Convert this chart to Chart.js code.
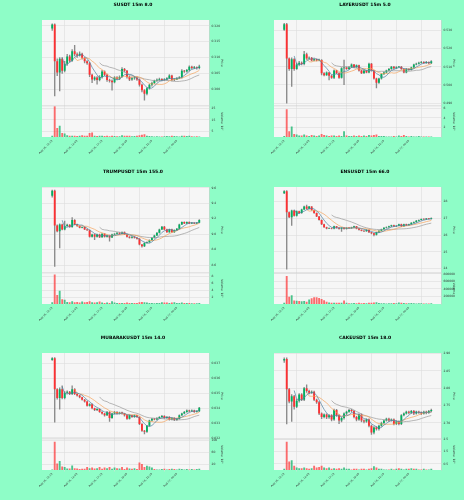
<!DOCTYPE html>
<html>
<head>
<meta charset="utf-8">
<script src="https://cdn.jsdelivr.net/npm/chart.js@4.4.1/dist/chart.umd.min.js"></script>
<style>
  html, body { margin: 0; padding: 0; background: #8efdc7; }
  #grid { position: relative; width: 464px; height: 500px; overflow: hidden; }
  #grid canvas { position: absolute; }
</style>
</head>
<body>
<div id="grid"></div>
<script>
// time axis: one candle every 15m, a label every 10 candles
const timeTicks = [0, 10, 20, 30, 40, 50];
const timeLabels = ['Aug 16, 12:15', 'Aug 16, 14:45', 'Aug 16, 17:15', 'Aug 16, 19:45', 'Aug 16, 22:15', 'Aug 17, 00:45'];
const mavPeriods = [5, 10, 20];
const mavColors = ['#4f7f9f', '#f5a35c', '#9a9a9a'];

// SUSDT
const susdtOpen0 = 0.3191;
const susdtClose = [
  0.3204,0.3088,0.3053,0.3096,0.3058,0.3080,0.3103,0.3090,0.3120,0.3110,
  0.3106,0.3112,0.3099,0.3088,0.3082,0.3046,0.3031,0.3037,0.3029,0.3039,
  0.3056,0.3046,0.3029,0.3027,0.3022,0.3037,0.3033,0.3039,0.3064,0.3058,
  0.3039,0.3031,0.3035,0.3037,0.3031,0.3014,0.2997,0.2986,0.3003,0.3014,
  0.3020,0.3027,0.3030,0.3032,0.3029,0.3031,0.3035,0.3043,0.3029,0.3031,
  0.3035,0.3037,0.3058,0.3056,0.3061,0.3071,0.3067,0.3069,0.3067,0.3072];
const susdtHigh = [
  0.3206,0.3206,0.3096,0.3100,0.3100,0.3088,0.3110,0.3108,0.3125,0.3138,
  0.3115,0.3118,0.3114,0.3100,0.3090,0.3085,0.3048,0.3040,0.3040,0.3043,
  0.3060,0.3058,0.3048,0.3032,0.3030,0.3040,0.3040,0.3042,0.3068,0.3066,
  0.3060,0.3042,0.3038,0.3040,0.3039,0.3033,0.3016,0.2999,0.3005,0.3016,
  0.3023,0.3029,0.3033,0.3035,0.3034,0.3034,0.3037,0.3046,0.3045,0.3034,
  0.3037,0.3040,0.3062,0.3060,0.3063,0.3074,0.3073,0.3072,0.3071,0.3076];
const susdtLow = [
  0.3185,0.2979,0.3043,0.2995,0.3050,0.3055,0.3075,0.3085,0.3088,0.3105,
  0.3100,0.3104,0.3095,0.3083,0.3078,0.3040,0.3021,0.3028,0.3016,0.3026,
  0.3035,0.3043,0.3025,0.3022,0.2997,0.3020,0.3030,0.3030,0.3037,0.3055,
  0.3035,0.3027,0.3028,0.3031,0.3028,0.3010,0.2992,0.2966,0.2982,0.3000,
  0.3010,0.3018,0.3025,0.3028,0.3026,0.3027,0.3029,0.3033,0.3026,0.3027,
  0.3030,0.3033,0.3035,0.3053,0.3054,0.3058,0.3064,0.3065,0.3063,0.3064];
const susdtVolume = [
  1,27,8,10,3.5,3,1.5,1,1.2,1,
  0.8,1.2,1.5,1,1.2,3.5,4,1,0.8,1,
  1.2,0.8,1,0.7,1.2,0.8,0.7,0.6,1.5,1,
  1.2,1,0.7,0.8,1,1.5,2,2.5,1,0.8,
  0.7,0.5,0.6,0.5,0.5,0.6,0.8,0.7,1,0.9,
  0.6,0.5,1.2,1,0.8,1,0.7,0.5,0.6,0.5];
const susdtPriceTicks = [0.300, 0.305, 0.310, 0.315, 0.320];
const susdtVolumeTicks = [5, 10, 15, 20, 25];

// LAYERUSDT
const layerOpen0 = 0.5304;
const layerClose = [
  0.5335,0.5146,0.5088,0.5142,0.5088,0.5112,0.5123,0.5115,0.5169,0.5146,
  0.5150,0.5135,0.5142,0.5135,0.5138,0.5065,0.5054,0.5069,0.5050,0.5040,
  0.5079,0.5065,0.5040,0.5092,0.5096,0.5088,0.5098,0.5112,0.5098,0.5108,
  0.5079,0.5065,0.5079,0.5069,0.5117,0.5079,0.5035,0.5012,0.5035,0.5060,
  0.5069,0.5079,0.5088,0.5100,0.5092,0.5098,0.5100,0.5088,0.5069,0.5088,
  0.5083,0.5096,0.5112,0.5117,0.5123,0.5127,0.5121,0.5127,0.5119,0.5131];
const layerHigh = [
  0.5340,0.5340,0.5150,0.5150,0.5145,0.5120,0.5130,0.5128,0.5185,0.5175,
  0.5155,0.5152,0.5146,0.5144,0.5142,0.5140,0.5068,0.5072,0.5070,0.5055,
  0.5083,0.5080,0.5068,0.5096,0.5137,0.5100,0.5102,0.5116,0.5114,0.5111,
  0.5110,0.5081,0.5082,0.5081,0.5120,0.5119,0.5081,0.5038,0.5038,0.5063,
  0.5072,0.5082,0.5091,0.5103,0.5102,0.5101,0.5103,0.5102,0.5090,0.5091,
  0.5090,0.5099,0.5115,0.5120,0.5126,0.5130,0.5129,0.5130,0.5128,0.5134];
const layerLow = [
  0.5300,0.4900,0.5080,0.4992,0.5080,0.5085,0.5108,0.5110,0.5110,0.5140,
  0.5143,0.5132,0.5133,0.5132,0.5133,0.5055,0.5050,0.5052,0.5027,0.5036,
  0.5035,0.5062,0.5036,0.5038,0.5002,0.5085,0.5086,0.5095,0.5095,0.5096,
  0.5076,0.5062,0.5063,0.5066,0.5066,0.5076,0.5032,0.4983,0.5008,0.5032,
  0.5057,0.5066,0.5076,0.5085,0.5089,0.5090,0.5096,0.5085,0.5066,0.5066,
  0.5080,0.5081,0.5093,0.5110,0.5115,0.5120,0.5118,0.5119,0.5116,0.5117];
const layerVolume = [
  0.2,5.8,1.2,2.2,0.6,0.5,0.3,0.3,0.5,0.3,
  0.2,0.4,0.3,0.2,0.3,0.6,0.4,0.3,0.2,0.3,
  0.3,0.2,0.3,0.2,1.2,0.3,0.2,0.2,0.3,0.2,
  0.3,0.2,0.3,0.2,0.4,0.3,0.4,0.5,0.2,0.2,
  0.2,0.1,0.1,0.1,0.2,0.1,0.3,0.2,0.4,0.2,
  0.1,0.2,0.1,0.1,0.2,0.1,0.1,0.1,0.1,0.1];
const layerPriceTicks = [0.49, 0.50, 0.51, 0.52, 0.53];
const layerVolumeTicks = [2, 4, 6];

// TRUMPUSDT
const trumpOpen0 = 9.496;
const trumpClose = [
  9.561,9.113,9.039,9.126,9.061,9.104,9.122,9.091,9.183,9.126,
  9.104,9.083,9.091,9.061,9.052,8.965,8.996,8.965,8.996,8.961,
  9.004,8.965,8.983,8.957,8.996,9.004,9.017,9.004,9.026,8.996,
  8.965,8.952,8.965,8.952,8.939,8.865,8.843,8.887,8.896,8.922,
  8.952,8.983,9.017,9.061,9.096,9.061,9.026,9.061,9.026,9.052,
  9.070,9.126,9.157,9.139,9.157,9.139,9.148,9.139,9.148,9.183];
const trumpHigh = [
  9.570,9.570,9.120,9.135,9.130,9.170,9.130,9.125,9.213,9.190,
  9.130,9.108,9.095,9.095,9.065,9.055,9.000,9.000,9.000,9.000,
  9.008,9.008,8.987,8.987,9.000,9.008,9.020,9.020,9.030,9.030,
  9.000,8.970,8.968,8.968,8.955,8.942,8.868,8.890,8.900,8.926,
  8.956,8.987,9.020,9.065,9.100,9.100,9.065,9.065,9.065,9.056,
  9.074,9.130,9.161,9.160,9.161,9.160,9.152,9.150,9.152,9.187];
const trumpLow = [
  9.480,8.583,9.030,8.822,9.055,9.055,9.100,9.087,9.087,9.120,
  9.100,9.079,9.080,9.057,9.048,8.960,8.960,8.930,8.960,8.955,
  8.958,8.960,8.960,8.910,8.953,8.992,9.000,9.000,9.000,8.992,
  8.960,8.948,8.948,8.948,8.935,8.860,8.830,8.838,8.883,8.892,
  8.918,8.948,8.979,9.013,9.057,9.057,9.022,9.022,9.022,9.022,
  9.048,9.066,9.122,9.135,9.135,9.135,9.135,9.135,9.135,9.144];
const trumpVolume = [
  0.5,8.5,2.6,3.8,1.4,1.2,0.6,0.5,0.8,0.5,
  0.6,0.4,0.7,0.5,0.6,0.8,0.5,0.4,0.5,0.7,
  0.4,0.3,0.4,0.3,0.8,0.4,0.3,0.3,0.3,0.3,
  0.4,0.3,0.3,0.3,0.3,0.5,0.6,0.5,0.4,0.3,
  0.3,0.2,0.3,0.3,0.5,0.4,0.4,0.3,0.4,0.5,
  0.3,0.3,0.4,0.3,0.3,0.3,0.2,0.2,0.2,0.3];
const trumpPriceTicks = [8.6, 8.8, 9.0, 9.2, 9.4, 9.6];
const trumpVolumeTicks = [2, 4, 6, 8];

// ENSUSDT
const ensOpen0 = 28.50;
const ensClose = [
  28.63,27.37,27.07,27.47,27.16,27.43,27.33,27.54,27.71,27.58,
  27.71,27.50,27.33,27.12,26.91,26.65,26.48,26.40,26.42,26.40,
  26.53,26.44,26.38,26.44,26.38,26.44,26.42,26.46,26.53,26.40,
  26.32,26.27,26.23,26.32,26.17,26.11,26.02,26.17,26.27,26.36,
  26.44,26.48,26.53,26.59,26.53,26.57,26.65,26.53,26.65,26.59,
  26.65,26.74,26.78,26.86,26.91,26.97,26.95,26.99,26.97,27.01];
const ensHigh = [
  28.66,28.66,27.40,27.50,27.48,27.45,27.44,27.56,27.74,27.80,
  27.72,27.71,27.50,27.33,27.12,26.91,26.66,26.49,26.44,26.43,
  26.55,26.53,26.45,26.46,26.45,26.46,26.45,26.48,26.55,26.53,
  26.41,26.32,26.28,26.33,26.32,26.17,26.11,26.18,26.28,26.37,
  26.45,26.50,26.54,26.60,26.60,26.58,26.67,26.66,26.67,26.66,
  26.67,26.75,26.80,26.88,26.92,26.98,26.98,27.00,26.99,27.03];
const ensLow = [
  28.48,23.96,27.05,26.59,27.14,27.14,27.30,27.30,27.52,27.56,
  27.57,27.48,27.30,27.10,26.89,26.63,26.46,26.38,26.39,26.38,
  26.38,26.42,26.36,26.22,26.36,26.36,26.40,26.40,26.44,26.38,
  26.30,26.25,26.21,26.22,26.15,26.08,25.96,26.00,26.15,26.26,
  26.34,26.42,26.47,26.51,26.51,26.51,26.55,26.51,26.51,26.57,
  26.57,26.64,26.72,26.76,26.84,26.89,26.93,26.93,26.95,26.95];
const ensVolume = [
  30000,744000,192000,232000,90000,85000,80000,70000,80000,60000,
  120000,150000,180000,180000,160000,130000,100000,60000,40000,30000,
  30000,30000,30000,30000,96000,30000,20000,20000,25000,20000,
  30000,20000,25000,20000,30000,35000,40000,45000,25000,20000,
  20000,15000,20000,20000,25000,20000,40000,30000,25000,20000,
  20000,25000,20000,15000,20000,20000,15000,15000,15000,20000];
const ensPriceTicks = [24, 25, 26, 27, 28];
const ensVolumeTicks = [200000, 400000, 600000, 800000];

// MUBARAKUSDT
const mubarakOpen0 = 0.03723;
const mubarakClose = [
  0.03735,0.03526,0.03467,0.03526,0.03467,0.03502,0.03509,0.03495,0.03526,0.03495,
  0.03484,0.03472,0.03456,0.03444,0.03416,0.03426,0.03398,0.03386,0.03393,0.03374,
  0.03363,0.03351,0.03374,0.03333,0.03363,0.03374,0.03363,0.03370,0.03363,0.03351,
  0.03328,0.03351,0.03340,0.03351,0.03340,0.03293,0.03247,0.03240,0.03281,0.03316,
  0.03328,0.03323,0.03333,0.03340,0.03347,0.03333,0.03340,0.03323,0.03333,0.03319,
  0.03328,0.03351,0.03363,0.03374,0.03384,0.03379,0.03384,0.03374,0.03379,0.03402];
const mubarakHigh = [
  0.03740,0.03740,0.03530,0.03535,0.03550,0.03510,0.03515,0.03512,0.03550,0.03530,
  0.03498,0.03486,0.03474,0.03458,0.03446,0.03430,0.03428,0.03400,0.03396,0.03395,
  0.03376,0.03365,0.03377,0.03376,0.03366,0.03377,0.03376,0.03373,0.03372,0.03365,
  0.03353,0.03354,0.03353,0.03354,0.03353,0.03342,0.03295,0.03250,0.03284,0.03319,
  0.03331,0.03330,0.03336,0.03343,0.03350,0.03349,0.03343,0.03342,0.03336,0.03335,
  0.03331,0.03354,0.03366,0.03377,0.03387,0.03386,0.03387,0.03386,0.03382,0.03405];
const mubarakLow = [
  0.03720,0.03305,0.03460,0.03393,0.03462,0.03462,0.03498,0.03490,0.03490,0.03490,
  0.03480,0.03468,0.03452,0.03440,0.03412,0.03412,0.03394,0.03382,0.03383,0.03370,
  0.03358,0.03346,0.03348,0.03310,0.03330,0.03360,0.03358,0.03360,0.03358,0.03346,
  0.03324,0.03325,0.03336,0.03337,0.03336,0.03288,0.03242,0.03225,0.03236,0.03278,
  0.03313,0.03320,0.03320,0.03330,0.03337,0.03330,0.03330,0.03319,0.03320,0.03315,
  0.03316,0.03325,0.03348,0.03360,0.03371,0.03376,0.03376,0.03371,0.03372,0.03376];
const mubarakVolume = [
  2,95,22,30,12,10,5,5,15,6,
  5,3,4,4,10,6,8,5,6,10,
  4,8,6,10,4,8,6,5,10,3,
  8,5,4,6,3,25,20,10,14,12,
  8,3,2,2,3,4,2,3,4,3,
  2,4,3,2,3,2,3,2,3,4];
const mubarakPriceTicks = [0.032, 0.033, 0.034, 0.035, 0.036, 0.037];
const mubarakVolumeTicks = [20, 40, 60, 80, 100];

// CAKEUSDT
const cakeOpen0 = 2.880;
const cakeClose = [
  2.885,2.797,2.762,2.777,2.747,2.764,2.782,2.767,2.800,2.792,
  2.787,2.790,2.767,2.760,2.727,2.717,2.724,2.716,2.722,2.710,
  2.737,2.722,2.707,2.714,2.727,2.732,2.737,2.734,2.717,2.710,
  2.724,2.707,2.704,2.710,2.692,2.672,2.687,2.682,2.692,2.700,
  2.707,2.712,2.707,2.710,2.697,2.704,2.697,2.722,2.727,2.732,
  2.729,2.734,2.727,2.732,2.730,2.727,2.732,2.729,2.734,2.737];
const cakeHigh = [
  2.888,2.888,2.800,2.782,2.780,2.768,2.785,2.785,2.803,2.810,
  2.795,2.793,2.792,2.769,2.762,2.729,2.726,2.726,2.724,2.724,
  2.740,2.739,2.724,2.716,2.729,2.734,2.739,2.739,2.736,2.719,
  2.726,2.726,2.709,2.712,2.712,2.694,2.689,2.689,2.694,2.702,
  2.709,2.714,2.714,2.712,2.712,2.706,2.706,2.724,2.729,2.734,
  2.734,2.736,2.736,2.734,2.734,2.732,2.734,2.734,2.736,2.740];
const cakeLow = [
  2.875,2.697,2.758,2.704,2.740,2.744,2.760,2.764,2.764,2.788,
  2.784,2.785,2.764,2.756,2.724,2.712,2.714,2.712,2.713,2.706,
  2.707,2.719,2.698,2.703,2.711,2.724,2.730,2.731,2.714,2.706,
  2.707,2.703,2.700,2.701,2.688,2.667,2.668,2.679,2.679,2.690,
  2.698,2.705,2.704,2.705,2.694,2.695,2.694,2.695,2.720,2.725,
  2.726,2.727,2.724,2.725,2.727,2.724,2.725,2.726,2.727,2.732];
const cakeVolume = [
  0.1,2.3,0.7,0.8,0.35,0.2,0.15,0.15,0.2,0.15,
  0.1,0.15,0.35,0.2,0.25,0.35,0.2,0.15,0.2,0.1,
  0.15,0.1,0.15,0.1,0.2,0.1,0.1,0.05,0.1,0.1,
  0.05,0.1,0.1,0.05,0.1,0.15,0.3,0.2,0.1,0.1,
  0.05,0.05,0.05,0.1,0.05,0.1,0.15,0.1,0.05,0.1,
  0.1,0.15,0.1,0.1,0.05,0.05,0.1,0.05,0.05,0.1];
const cakePriceTicks = [2.70, 2.75, 2.80, 2.85, 2.90];
const cakeVolumeTicks = [0.5, 1.0, 1.5, 2.0, 2.5];

const panels = [
  { title: 'SUSDT 15m 8.0', open0: susdtOpen0, close: susdtClose, high: susdtHigh, low: susdtLow, volume: susdtVolume,
    pMin: 0.2948, pMax: 0.3218, pTicks: susdtPriceTicks, pDec: 3, vMax: 27.5, vTicks: susdtVolumeTicks, vDec: 0, vLabel: 'Volume  10\u2077' },
  { title: 'LAYERUSDT 15m 5.0', open0: layerOpen0, close: layerClose, high: layerHigh, low: layerLow, volume: layerVolume,
    pMin: 0.4885, pMax: 0.5358, pTicks: layerPriceTicks, pDec: 3, vMax: 6.5, vTicks: layerVolumeTicks, vDec: 0, vLabel: 'Volume  10\u2076' },
  { title: 'TRUMPUSDT 15m 155.0', open0: trumpOpen0, close: trumpClose, high: trumpHigh, low: trumpLow, volume: trumpVolume,
    pMin: 8.50, pMax: 9.61, pTicks: trumpPriceTicks, pDec: 1, vMax: 9, vTicks: trumpVolumeTicks, vDec: 0, vLabel: 'Volume  10\u2075' },
  { title: 'ENSUSDT 15m 66.0', open0: ensOpen0, close: ensClose, high: ensHigh, low: ensLow, volume: ensVolume,
    pMin: 23.75, pMax: 28.88, pTicks: ensPriceTicks, pDec: 0, vMax: 830000, vTicks: ensVolumeTicks, vDec: 0, vLabel: 'Volume' },
  { title: 'MUBARAKUSDT 15m 14.0', open0: mubarakOpen0, close: mubarakClose, high: mubarakHigh, low: mubarakLow, volume: mubarakVolume,
    pMin: 0.03193, pMax: 0.03770, pTicks: mubarakPriceTicks, pDec: 3, vMax: 105, vTicks: mubarakVolumeTicks, vDec: 0, vLabel: 'Volume  10\u2076' },
  { title: 'CAKEUSDT 15m 18.0', open0: cakeOpen0, close: cakeClose, high: cakeHigh, low: cakeLow, volume: cakeVolume,
    pMin: 2.654, pMax: 2.902, pTicks: cakePriceTicks, pDec: 2, vMax: 2.55, vTicks: cakeVolumeTicks, vDec: 1, vLabel: 'Volume  10\u2076' }
];

const UP = '#00b060', DOWN = '#fe3032';
const UP_VOL = 'rgba(0,176,96,0.7)', DOWN_VOL = 'rgba(254,48,50,0.7)';

Chart.defaults.font.family = 'DejaVu Sans';
Chart.defaults.color = '#222';

function sma(arr, n) {
  return arr.map((_, i) => i < n - 1 ? null : arr.slice(i - n + 1, i + 1).reduce((a, b) => a + b, 0) / n);
}

// light panel face and a thin rule between price and volume panes
const paneFace = {
  id: 'paneFace',
  beforeDraw(chart) {
    const { ctx, chartArea: a } = chart;
    ctx.save();
    ctx.fillStyle = '#f6f6f6';
    ctx.fillRect(a.left, a.top, a.width, a.height);
    ctx.restore();
  },
  afterDatasetsDraw(chart) {
    const { ctx, chartArea: a, scales } = chart;
    ctx.save();
    ctx.strokeStyle = '#c8c8c8';
    ctx.lineWidth = 0.6;
    ctx.beginPath();
    ctx.moveTo(a.left, scales.y.bottom);
    ctx.lineTo(a.right, scales.y.bottom);
    ctx.stroke();
    ctx.restore();
  }
};

const grid = document.getElementById('grid');
const rowTops = [0, 167, 333];

panels.forEach((p, slot) => {
  const canvas = document.createElement('canvas');
  canvas.width = 232;
  canvas.height = 167;
  canvas.style.left = (slot % 2) * 232 + 'px';
  canvas.style.top = rowTops[Math.floor(slot / 2)] + 'px';
  grid.appendChild(canvas);

  const open = p.close.map((c, i) => i === 0 ? p.open0 : p.close[i - 1]);
  const up = p.close.map((c, i) => c >= open[i]);

  const wicks = p.close.map((c, i) => ({ x: i, y: [Math.min(p.low[i], open[i], c), Math.max(p.high[i], open[i], c)] }));
  const bodies = p.close.map((c, i) => ({ x: i, y: [open[i], c] }));
  const vols = p.volume.map((v, i) => ({ x: i, y: v }));

  const mavSets = mavPeriods.map((n, k) => ({
    type: 'line',
    data: sma(p.close, n).map((v, i) => ({ x: i, y: v })),
    yAxisID: 'y',
    borderColor: mavColors[k],
    borderWidth: 0.7,
    pointRadius: 0,
    order: 0
  }));

  const gridStyle = { color: '#dddddd', lineWidth: 0.6, tickLength: 1.5 };

  new Chart(canvas, {
    type: 'bar',
    data: {
      datasets: [
        { data: vols, yAxisID: 'y2', grouped: false, order: 3,
          backgroundColor: up.map(u => u ? UP_VOL : DOWN_VOL),
          barPercentage: 0.75, categoryPercentage: 1 },
        { data: wicks, yAxisID: 'y', grouped: false, order: 2,
          backgroundColor: '#8a8a8a', barThickness: 0.7 },
        { data: bodies, yAxisID: 'y', grouped: false, order: 1,
          backgroundColor: up.map(u => u ? UP : DOWN),
          barPercentage: 0.75, categoryPercentage: 1, minBarLength: 0.6 },
        ...mavSets
      ]
    },
    options: {
      responsive: false,
      animation: false,
      devicePixelRatio: 1,
      layout: { padding: { left: 42, right: 8, top: 0, bottom: 0 } },
      plugins: {
        legend: { display: false },
        tooltip: { enabled: false },
        title: {
          display: true, text: p.title, color: '#000',
          font: { size: 4.5, weight: 'bold' },
          padding: { top: 2, bottom: 12.6 }
        }
      },
      scales: {
        x: {
          type: 'linear', min: -4.1, max: 62.9, offset: false,
          afterBuildTicks: s => { s.ticks = timeTicks.map(v => ({ value: v })); },
          afterFit: s => { s.height = 30; s.paddingLeft = 0; s.paddingRight = 0; },
          ticks: {
            autoSkip: false, minRotation: 45, maxRotation: 45, padding: 1,
            font: { size: 2.6 }, color: '#333',
            callback: v => timeLabels[timeTicks.indexOf(v)]
          },
          grid: gridStyle,
          border: { display: false }
        },
        y: {
          position: 'right', stack: 'panes', stackWeight: 2.75,
          min: p.pMin, max: p.pMax,
          afterBuildTicks: s => { s.ticks = p.pTicks.map(v => ({ value: v })); },
          afterFit: s => { s.width = 15; s.paddingTop = 0; s.paddingBottom = 0; },
          ticks: { font: { size: 3 }, color: '#333', padding: 1, callback: v => v.toFixed(p.pDec) },
          title: { display: true, text: 'Price', font: { size: 3 }, color: '#333', padding: 0 },
          grid: gridStyle,
          border: { color: '#cccccc', width: 0.6 }
        },
        y2: {
          position: 'right', stack: 'panes', stackWeight: 1,
          min: 0, max: p.vMax,
          afterBuildTicks: s => { s.ticks = p.vTicks.map(v => ({ value: v })); },
          afterFit: s => { s.width = 15; s.paddingTop = 0; s.paddingBottom = 0; },
          ticks: { font: { size: 3 }, color: '#333', padding: 1, callback: v => v.toFixed(p.vDec) },
          title: { display: true, text: p.vLabel, font: { size: 3 }, color: '#333', padding: 0 },
          grid: gridStyle,
          border: { color: '#cccccc', width: 0.6 }
        }
      }
    },
    plugins: [paneFace]
  });
});
</script>
</body>
</html>
